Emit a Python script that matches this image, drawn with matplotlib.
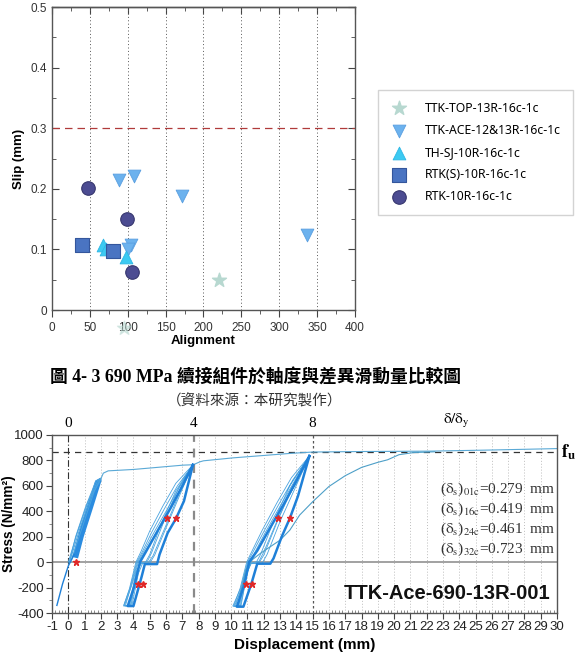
import matplotlib
matplotlib.use("Agg")
import matplotlib.pyplot as plt
from matplotlib.ticker import MultipleLocator
import numpy as np

plt.rcParams['font.family'] = ['Liberation Sans', 'Noto Sans CJK TC']
plt.rcParams['mathtext.fontset'] = 'stix'
plt.rcParams['axes.unicode_minus'] = False

# ---- top chart: slip vs alignment ----
series = ["TTK-TOP-13R-16c-1c", "TTK-ACE-12&13R-16c-1c", "TH-SJ-10R-16c-1c",
          "RTK(S)-10R-16c-1c", "RTK-10R-16c-1c"]
top_x = [220, 95]
top_y = [0.049, -0.03]
ace_x = [88, 108, 172, 336, 104, 100]
ace_y = [0.214, 0.221, 0.188, 0.124, 0.108, 0.100]
sj_x = [67, 71, 98]
sj_y = [0.108, 0.100, 0.088]
rtks_x = [40, 80]
rtks_y = [0.107, 0.097]
rtk_x = [47, 99, 106]
rtk_y = [0.201, 0.150, 0.062]
slip_limit = 0.3

# ---- bottom chart: stress-displacement ----
mono_x = [2.0, 2.15, 2.45, 4.0, 7.05, 7.67, 8.08, 8.3, 10.1, 13.6, 15.0, 18.0, 22.2, 26.0, 30.0]
mono_y = [655, 700, 718, 729, 763, 766, 789, 797, 820, 855, 866, 870, 873, 882, 893]

init_x = [-0.7, -0.35, 0.0, 0.2, 0.35]
init_y = [-340, -170, -30, 20, 60]
band_x = [0.25, 0.8, 1.65, 1.95, 2.05, 1.5, 0.95, 0.6, 0.25]
band_y = [40, 300, 640, 662, 645, 420, 200, 30, 40]
band_thin_x = [[0.0, 0.55, 1.2, 1.8, 1.99], [0.1, 0.7, 1.4, 1.95], [0.2, 0.95, 1.6, 2.0],
               [0.05, 0.45, 1.05, 1.7, 1.98]]
band_thin_y = [[0, 230, 470, 640, 660], [10, 260, 510, 655], [20, 310, 560, 650],
               [-10, 200, 430, 640, 658]]

g2_thin = [
    ([7.65, 6.9, 6.1, 5.3, 4.6, 4.3, 3.9, 3.45, 3.85, 4.25, 4.45, 4.85, 5.1, 5.9, 6.8, 7.65],
     [765, 560, 390, 210, 60, 0, -180, -340, -340, -60, -5, 5, 70, 330, 590, 765]),
    ([7.65, 6.7, 5.9, 5.1, 4.5, 4.2, 3.8, 3.4, 3.75, 4.15, 4.4, 4.7, 5.0, 5.7, 6.6, 7.65],
     [765, 600, 420, 230, 70, 0, -200, -340, -340, -80, -10, -10, 60, 300, 560, 765]),
    ([7.65, 6.8, 6.0, 5.2, 4.55, 4.25, 3.85, 3.5, 3.9, 4.3, 4.55, 5.0, 5.3, 6.1, 6.95, 7.65],
     [765, 585, 400, 220, 65, 0, -190, -345, -345, -90, -12, -8, 55, 300, 560, 765]),
    ([7.65, 6.6, 5.8, 5.0, 4.45, 4.15, 3.75, 3.4, 3.8, 4.2, 4.5, 4.9, 5.2, 6.0, 6.85, 7.65],
     [765, 620, 440, 245, 80, 0, -210, -345, -345, -70, -8, -6, 50, 290, 550, 765]),
]
g2_thick = [
    ([7.65, 7.0, 6.3, 5.5, 4.8, 4.4, 4.05, 3.65, 4.0, 4.5, 4.7, 5.45, 5.6, 6.1, 6.6, 7.1, 7.65],
     [765, 600, 430, 250, 90, 0, -190, -345, -345, -115, -15, -15, 60, 230, 340, 480, 765]),
]
g3_thin = [
    ([14.8, 14.0, 13.1, 12.2, 11.5, 11.15, 10.7, 10.2, 10.6, 11.0, 11.25, 11.7, 12.0, 12.9, 13.9, 14.8],
     [835, 620, 430, 230, 70, 0, -190, -345, -345, -70, -5, 5, 80, 350, 610, 835]),
    ([14.8, 13.8, 12.9, 12.0, 11.3, 11.0, 10.6, 10.1, 10.45, 10.9, 11.15, 11.5, 11.8, 12.6, 13.6, 14.8],
     [835, 650, 450, 240, 70, 0, -200, -345, -345, -90, -10, -10, 60, 320, 600, 835]),
    ([14.8, 13.9, 13.0, 12.1, 11.4, 11.05, 10.65, 10.25, 10.55, 11.0, 11.2, 11.9, 12.2, 13.0, 13.95, 14.8],
     [835, 640, 440, 235, 65, 0, -195, -350, -350, -80, -12, -8, 60, 320, 590, 835]),
    ([14.8, 13.7, 12.8, 11.9, 11.25, 10.95, 10.55, 10.15, 10.5, 10.95, 11.2, 11.7, 12.0, 12.8, 13.75, 14.8],
     [835, 665, 465, 250, 80, 0, -205, -348, -348, -85, -10, -6, 55, 310, 590, 835]),
]
g3_thick = [
    ([14.8, 14.0, 13.2, 12.3, 11.6, 11.1, 10.8, 10.35, 10.75, 11.25, 11.6, 12.4, 12.6, 13.1, 13.6, 14.1, 14.8],
     [835, 640, 450, 250, 90, 0, -180, -350, -350, -165, -12, -12, 30, 200, 345, 520, 835]),
]
last_x = [10.4, 10.9, 11.3, 11.8, 13.0, 13.6, 14.2, 15.0, 16.0, 17.0, 18.0, 19.0, 19.6, 20.3, 21.2, 22.5]
last_y = [-345, -60, 20, 70, 173, 252, 370, 475, 595, 680, 745, 785, 805, 845, 862, 868]

mark_x = [0.45, 4.3, 4.6, 6.05, 6.6, 10.9, 11.3, 12.9, 13.6]
mark_y = [0, -170, -170, 350, 350, -170, -170, 350, 350]

ratio_pos = [0, 7.7, 15]
ratio_lab = ["0", "4", "8"]
fu = 863
slip_lab = ["01c", "16c", "24c", "32c"]
slip_val = ["0.279", "0.419", "0.461", "0.723"]

fig = plt.figure(figsize=(5.81, 6.56), dpi=100)

# ================= top chart =================
ax1 = fig.add_axes([0.0895, 0.5274, 0.5215, 0.4619])
ax1.scatter(top_x[:1], top_y[:1], marker='*', s=110, color='#b7d8d0', label=series[0], zorder=3)
ax1.scatter(top_x[1:], top_y[1:], marker='*', s=110, color='#b7d8d0', alpha=0.5, clip_on=False, zorder=3)
ax1.scatter(ace_x, ace_y, marker='v', s=85, color='#6cb2ee', edgecolor='#5a9fe0', linewidth=0.6,
            label=series[1], zorder=3)
ax1.scatter(sj_x, sj_y, marker='^', s=85, color='#3ccaf2', edgecolor='#2eb6e4', linewidth=0.6,
            label=series[2], zorder=3)
ax1.scatter(rtks_x, rtks_y, marker='s', s=90, color='#4a74c2', edgecolor='#34569c', linewidth=0.8,
            label=series[3], zorder=3)
ax1.scatter(rtk_x, rtk_y, marker='o', s=95, color='#4c4c92', edgecolor='#36366e', linewidth=0.8,
            label=series[4], zorder=3)
ax1.axhline(slip_limit, color='#b03a3a', linestyle=(0, (6, 4)), linewidth=0.9)
for gx in range(50, 400, 50):
    ax1.axvline(gx, color='#555555', linestyle=(0, (1, 2.5)), linewidth=0.7, zorder=1)
ax1.set_xlim(0, 400)
ax1.set_ylim(0, 0.5)
ax1.xaxis.set_major_locator(MultipleLocator(50))
ax1.xaxis.set_minor_locator(MultipleLocator(25))
ax1.yaxis.set_minor_locator(MultipleLocator(0.05))
ax1.set_yticks([0, 0.1, 0.2, 0.3, 0.4, 0.5])
ax1.set_yticklabels(["0", "0.1", "0.2", "0.3", "0.4", "0.5"])
ax1.tick_params(axis='x', which='both', direction='out', top=False, colors='#444444',
                labelcolor='#333333', labelsize=8.5)
ax1.tick_params(axis='x', which='major', length=5)
ax1.tick_params(axis='x', which='minor', length=3)
ax1.tick_params(axis='y', which='both', direction='in', right=True, colors='#444444',
                labelcolor='#333333', labelsize=8.5)
ax1.tick_params(axis='y', which='major', length=5)
ax1.tick_params(axis='y', which='minor', length=3)
sec = ax1.secondary_xaxis('top')
sec.xaxis.set_major_locator(MultipleLocator(50))
sec.xaxis.set_minor_locator(MultipleLocator(25))
sec.tick_params(which='both', direction='in', labeltop=False, colors='#444444')
sec.tick_params(which='major', length=5)
sec.tick_params(which='minor', length=3)
for sp in list(ax1.spines.values()) + [sec.spines['top']]:
    sp.set_color('#555555')
    sp.set_linewidth(1.0)
ax1.set_xlabel("Alignment", fontsize=9.5, fontweight='bold', labelpad=1)
ax1.set_ylabel("Slip (mm)", fontsize=9.5, fontweight='bold', labelpad=4)

ax1.legend(loc='upper left', bbox_to_anchor=(378 / 581, 1 - 90 / 656), bbox_transform=fig.transFigure,
           prop={'family': 'Noto Sans', 'size': 8.8}, frameon=True, fancybox=False,
           edgecolor='#c8c8c8', borderpad=0.95, labelspacing=0.75, handlelength=1.6,
           handletextpad=1.3, scatterpoints=1, borderaxespad=0)

# captions
fig.text(0.44, 1 - 377 / 656, "圖 4- 3 690 MPa 續接組件於軸度與差異滑動量比較圖",
         ha='center', va='center', fontsize=12.8, fontweight='bold',
         family=['Liberation Serif', 'Noto Sans CJK TC'])
fig.text(0.439, 1 - 401 / 656, "（資料來源：本研究製作）", ha='center', va='center',
         fontsize=10.5, family=['Noto Sans CJK TC'], color='#333333')

# ================= bottom chart =================
ax2 = fig.add_axes([0.0895, 0.0655, 0.8692, 0.2714])
thin_c = '#4aa3df'
thick_c = '#1f80d8'
for gx in range(1, 30):
    if gx in (15,):
        continue
    ax2.axvline(gx, color='#bdbdbd', linestyle=(0, (1, 2)), linewidth=0.7, zorder=0)
ax2.axhline(0, color='#9a9a9a', linewidth=1.3, zorder=1)
ax2.axhline(fu, color='#333333', linestyle=(0, (5, 4)), linewidth=0.9, zorder=1)
ax2.axvline(ratio_pos[0], color='#333333', linestyle=(0, (6, 2, 1, 2)), linewidth=0.8, zorder=1)
ax2.axvline(ratio_pos[1], color='#8a8a8a', linestyle=(0, (4, 3)), linewidth=1.6, zorder=1)
ax2.axvline(ratio_pos[2], color='#555555', linestyle=(0, (2, 2)), linewidth=0.9, zorder=1)

ax2.fill(band_x, band_y, color='#2b8ce0', linewidth=0, zorder=2)
for bx, by in zip(band_thin_x, band_thin_y):
    ax2.plot(bx, by, color=thin_c, linewidth=0.7, zorder=2)
ax2.plot(init_x, init_y, color=thick_c, linewidth=1.0, zorder=2)
for lx, ly in g2_thin + g3_thin:
    ax2.plot(lx, ly, color=thin_c, linewidth=0.6, zorder=2)
for lx, ly in g2_thick + g3_thick:
    ax2.plot(lx, ly, color=thick_c, linewidth=1.8, zorder=3)
ax2.plot(mono_x, mono_y, color='#5aa9d6', linewidth=0.8, zorder=2)
ax2.plot(last_x, last_y, color='#4d9fc8', linewidth=0.8, zorder=2)
ax2.plot(mark_x, mark_y, linestyle='none', marker='*', markersize=5, color='#e02828', zorder=4)

ax2.set_xlim(-1, 30)
ax2.set_ylim(-400, 1000)
ax2.xaxis.set_major_locator(MultipleLocator(1))
ax2.xaxis.set_minor_locator(MultipleLocator(0.2))
ax2.yaxis.set_major_locator(MultipleLocator(200))
ax2.yaxis.set_minor_locator(MultipleLocator(100))
ax2.tick_params(which='major', direction='out', length=4, colors='#444444', labelcolor='#222222',
                labelsize=9.5, pad=2)
ax2.tick_params(axis='x', which='minor', direction='in', length=2, colors='#777777')
ax2.tick_params(axis='y', which='minor', direction='out', length=2, colors='#777777')
for sp in ax2.spines.values():
    sp.set_color('#555555')
    sp.set_linewidth(1.0)
ax2.set_xlabel("Displacement (mm)", fontsize=11, fontweight='bold', labelpad=3)
ax2.set_ylabel("Stress (N/mm²)", fontsize=9.8, fontweight='bold')
ax2.yaxis.set_label_coords(-0.071, 0.5)

tr = ax2.get_xaxis_transform()
for p, lab in zip(ratio_pos, ratio_lab):
    ax2.text(p, 1.03, lab, transform=tr, ha='center', va='bottom', fontsize=11,
             family='Liberation Serif')
ax2.text(23.8, 1.03, r"$\mathrm{\delta/\delta_y}$", transform=tr, ha='center', va='bottom', fontsize=11)
ax2.text(1.007, fu, r"$\mathbf{f_u}$", transform=ax2.get_yaxis_transform(), ha='left', va='center',
         fontsize=13)

for i, (lab, val) in enumerate(zip(slip_lab, slip_val)):
    ax2.text(29.9, 574 - i * 157, r"($\mathrm{\delta_s}$)$_\mathrm{%s}$=%s  mm" % (lab, val),
             ha='right', va='center', fontsize=11, family='Liberation Serif', color='#333333')
ax2.text(29.6, -250, "TTK-Ace-690-13R-001", ha='right', va='center', fontsize=14.5,
         fontweight='bold', color='#111111')

fig.savefig("out.png", dpi=100)
